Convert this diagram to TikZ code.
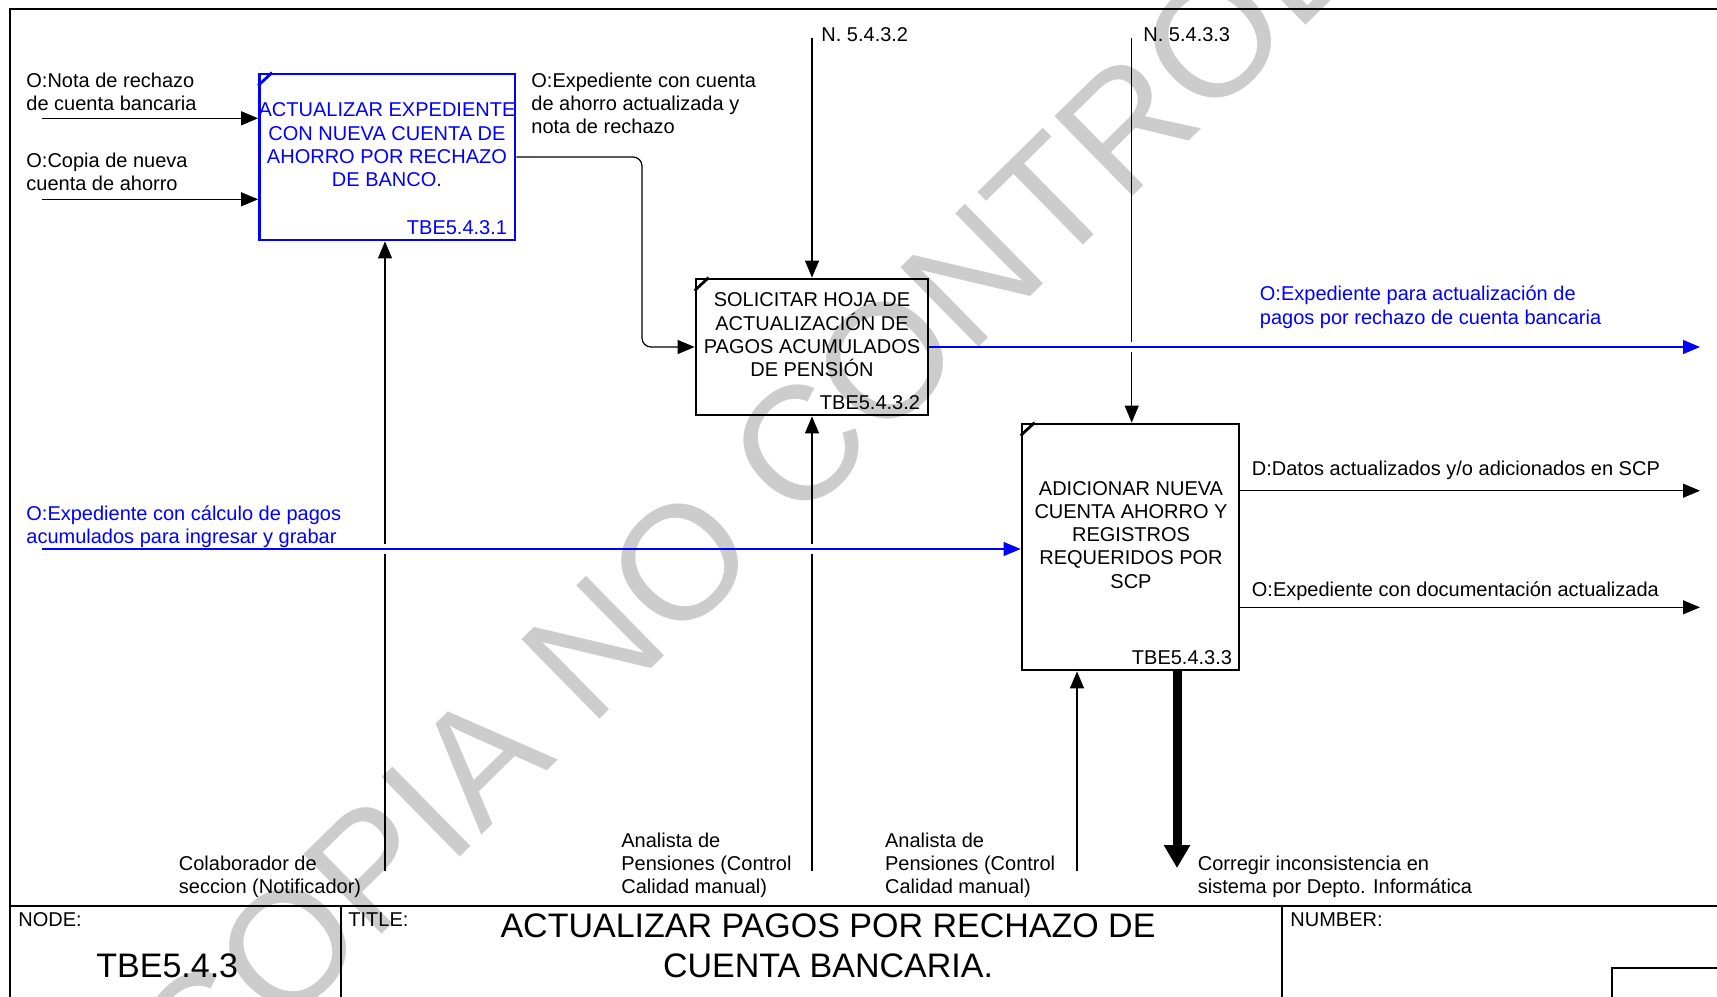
\documentclass[tikz,border=0pt]{standalone}
\usepackage{fontspec}
\setmainfont{Liberation Sans}
\usetikzlibrary{arrows.meta}

\begin{document}
\begin{tikzpicture}[x=0.5pt,y=-0.5pt,>={Triangle[length=8.5pt,width=7pt]}]
        \tikzstyle{proc}=[draw=black,line width=1.4pt,inner sep=0pt]
        \tikzstyle{ptext}=[anchor=north,align=center,inner sep=0pt,font=\fontsize{10}{11.6}\selectfont]
        \tikzstyle{pnum}=[anchor=base east,inner sep=0pt,font=\fontsize{10}{11.6}\selectfont]
        \tikzstyle{lbl}=[anchor=north west,align=left,inner sep=0pt,font=\fontsize{10}{11.6}\selectfont]
        \tikzstyle{big}=[inner sep=0pt,font=\fontsize{17}{19.7}\selectfont]
        \tikzstyle{flow}=[draw,line width=0.6pt,->]
        \tikzstyle{frame}=[draw,line width=1pt]
        \tikzstyle{gap}=[draw=white,line width=3pt]
        \tikzstyle{wmark}=[inner sep=0pt,text=black!20,rotate=44.5,font=\fontsize{81}{96}\selectfont]
       \useasboundingbox (0,0) rectangle (1717,996);
       \fill[white] (0,0) rectangle (1717,996);
       \node[wmark] (wm) at (860,386) {COPIA NO CONTROLADA};

       \draw[frame] (10,1000) -- (10,9) -- (1720,9);
       \draw[frame] (10,906) -- (1720,906);
       \draw[frame] (340.5,906) -- (340.5,1000);
       \draw[frame] (1282,906) -- (1282,1000);
       \draw[frame] (1720,968) -- (1612,968) -- (1612,1000);

       \begin{scope}
         \node [proc,draw=blue,minimum width=127.75pt,minimum height=83pt] (b1) at (387.25,157) {};
         \node [proc,minimum width=116pt,minimum height=68pt] (b2) at (812,347) {};
         \node [proc,minimum width=108.5pt,minimum height=123pt] (b3) at (1130.5,547) {};
         \draw[blue,line width=1.4pt] (b1.north west) ++(0,13) -- ++(14,-13);
         \draw[line width=1.4pt] (b2.north west) ++(0,13) -- ++(14,-13);
         \draw[line width=1.4pt] (b3.north west) ++(0,13) -- ++(14,-13);

         \node [ptext,text=blue] (t1) at (387,102.5) {ACTUALIZAR EXPEDIENTE\\CON NUEVA CUENTA DE\\AHORRO POR RECHAZO\\DE BANCO.};
         \node [ptext] (t2) at (812,292.5) {SOLICITAR HOJA DE\\ACTUALIZACIÓN DE\\PAGOS ACUMULADOS\\DE PENSIÓN};
         \node [ptext] (t3) at (1131,481) {ADICIONAR NUEVA\\CUENTA AHORRO Y\\REGISTROS\\REQUERIDOS POR\\SCP};
         \node [pnum,text=blue] (n1) at ([xshift=-4.5pt,yshift=3.5pt]b1.south east) {TBE5.4.3.1};
         \node [pnum] (n2) at ([xshift=-4.5pt,yshift=3.5pt]b2.south east) {TBE5.4.3.2};
         \node [pnum] (n3) at ([xshift=-4pt,yshift=3.5pt]b3.south east) {TBE5.4.3.3};
       \end{scope}

         \node [lbl] (l1) at (26,72.5) {O:Nota de rechazo\\de cuenta bancaria};
         \node [lbl] (l2) at (26,152.5) {O:Copia de nueva\\cuenta de ahorro};
         \node [lbl] (l3) at (531,72.5) {O:Expediente con cuenta\\de ahorro actualizada y\\nota de rechazo};
         \node [lbl] (l4) at (821,27.5) {N. 5.4.3.2};
         \node [lbl] (l5) at (1143,27.5) {N. 5.4.3.3};
         \node [lbl,text=blue] (l6) at (1259.5,285.8) {O:Expediente para actualización de\\pagos por rechazo de cuenta bancaria};
         \node [lbl,text=blue] (l7) at (26,505.5) {O:Expediente con cálculo de pagos\\acumulados para ingresar y grabar};
         \node [lbl] (l8) at (1251.5,460.8) {D:Datos actualizados y/o adicionados en SCP};
         \node [lbl] (l9) at (1251.5,581.5) {O:Expediente con documentación actualizada};
         \node [lbl] (l10) at (178.5,855.8) {Colaborador de\\seccion (Notificador)};
         \node [lbl] (l11) at (621,832.5) {Analista de\\Pensiones (Control\\Calidad manual)};
         \node [lbl] (l12) at (884.7,832.5) {Analista de\\Pensiones (Control\\Calidad manual)};
         \node [lbl] (l13) at (1197.5,855.8) {Corregir inconsistencia en\\sistema por Depto. Informática};

         \node [lbl] (node) at (18,912.5) {NODE:};
         \node [big,anchor=north west] (nodeid) at (96,953.6) {TBE5.4.3};
         \node [lbl] (title) at (348,912.5) {TITLE:};
         \node [big,anchor=north,align=center] (ttl) at (828,913.6) {ACTUALIZAR PAGOS POR RECHAZO DE\\CUENTA BANCARIA.};
         \node [lbl] (number) at (1290,912.5) {NUMBER:};

         \coordinate (i1) at (42,118.3);
         \coordinate (i2) at (42,199.3);
         \coordinate (i3) at (42,549);
         \coordinate (c2) at (812,38);
         \coordinate (c3) at (1131.7,38);
         \coordinate (o2) at (1700,345);
         \coordinate (o3) at (1700,490.7);
         \coordinate (o4) at (1700,607.3);
         \coordinate (m1) at (385,870.5);
         \coordinate (m2) at (812,870.5);
         \coordinate (m3) at (1077,870.5);
         \coordinate (k1) at (642,250);
         \coordinate (x3) at (1177,868);

         \path[flow] (i1) -- (i1 -| b1.west);
         \path[flow] (i2) -- (i2 -| b1.west);
         \path[flow,rounded corners=4.5pt] (b1.east) -| (k1) |- (b2.west);
         \path[flow] (c2) -- (b2.north);
         \path[flow] (c3) -- (c3 |- b3.north);
         \path[flow] (m1) -- (m1 |- b1.south);
         \path[flow] (m2) -- (b2.south);
         \path[flow] (m3) -- (m3 |- b3.south);
         \draw[gap] (c3 |- b2.east) ++(0,-5) -- ++(0,10);
         \draw[gap] (m1 |- i3) ++(0,-5) -- ++(0,10);
         \draw[gap] (m2 |- i3) ++(0,-5) -- ++(0,10);
         \path[flow,blue] (b2.east) -- (b2.east -| o2);
         \path[flow,blue] (i3) -- (i3 -| b3.west);
         \path[flow] (b3.east |- o3) -- (o3);
         \path[flow] (b3.east |- o4) -- (o4);
         \draw[line width=4.5pt,-{Triangle[length=11.5pt,width=12.5pt]}] (x3 |- b3.south) -- (x3);
      \end{tikzpicture}
\end{document}
